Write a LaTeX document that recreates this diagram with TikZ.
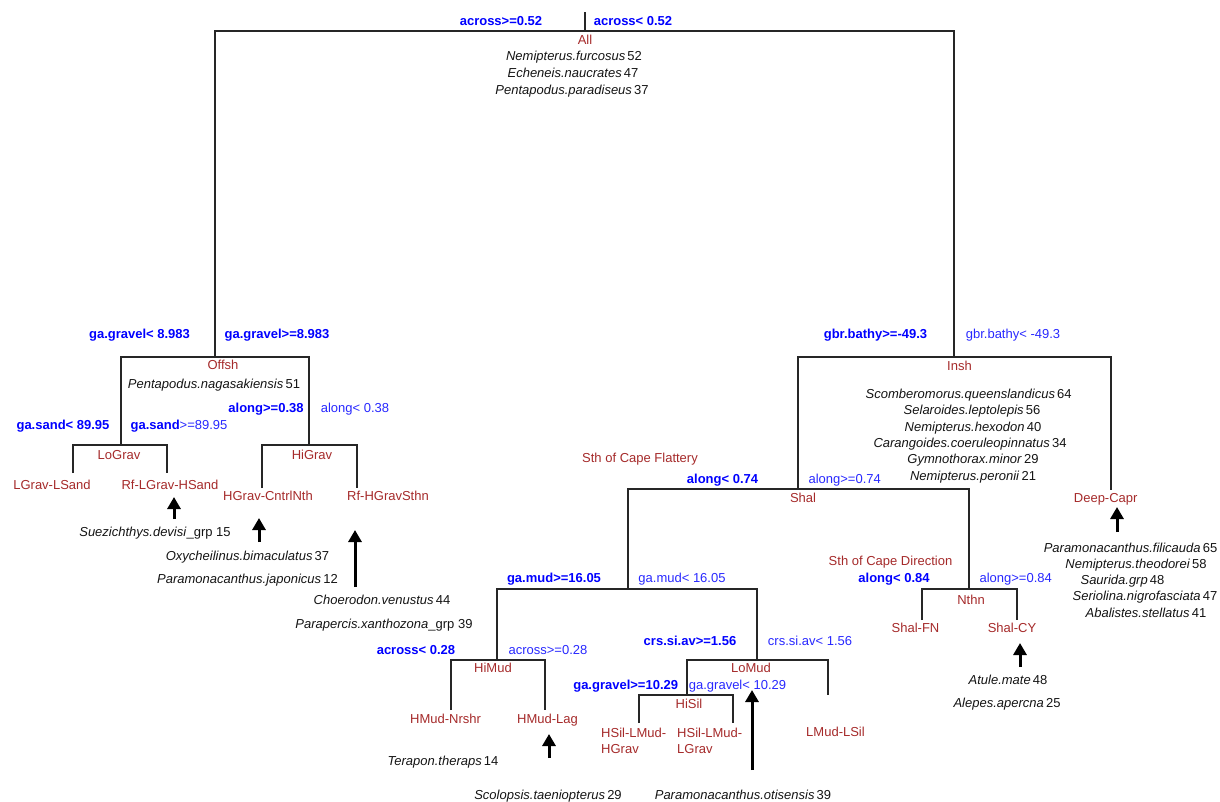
\documentclass[tikz,border=0pt]{standalone}
\usepackage{fontspec}
\setmainfont{Liberation Sans}
\usetikzlibrary{arrows.meta}
\definecolor{grpred}{RGB}{165,42,42}
\definecolor{splitblue}{RGB}{0,0,255}
\definecolor{splitlight}{RGB}{40,40,255}
\definecolor{sptext}{RGB}{20,20,20}
\newcommand{\basefnt}{\fontsize{13}{16}\selectfont}
\tikzset{
  lbl/.style={inner sep=0pt, text height=9pt, text depth=0pt},
  sb/.style={lbl, text=splitblue, font=\basefnt\bfseries},
  sr/.style={lbl, text=splitlight},
  grp/.style={lbl, text=grpred},
  sp/.style={lbl, text=sptext},
  tree/.style={line width=1.3pt, black!85},
  arr/.style={line width=3pt, -{Triangle[width=13pt,length=12pt]}},
}
\newcommand{\spn}[2]{\textit{#1}\,#2}
\begin{document}
\begin{tikzpicture}[x=1pt,y=-1pt,font=\basefnt]
\useasboundingbox (0,0) rectangle (1220,801);

% ---------- junction coordinates ----------
\coordinate (rootTop) at (585,12);
\coordinate (rootJ) at (585,31);
\coordinate (offJ) at (215,357);
\coordinate (insJ) at (954,357);
\coordinate (loJ) at (121,445);
\coordinate (hiJ) at (309,445);
\coordinate (lglsE) at (73,473);
\coordinate (rflhE) at (167,473);
\coordinate (hgcnE) at (262,488);
\coordinate (rfhsE) at (357,488);
\coordinate (shalJ) at (798,489);
\coordinate (deepE) at (1111,490);
\coordinate (mudJ) at (628,589);
\coordinate (nthnJ) at (969,589);
\coordinate (shfnE) at (922,620);
\coordinate (shcyE) at (1017,620);
\coordinate (himudJ) at (497,660);
\coordinate (lomudJ) at (757,660);
\coordinate (hmnE) at (451,710);
\coordinate (hmlE) at (545,710);
\coordinate (hisilJ) at (687,695);
\coordinate (lmlsE) at (828,695);
\coordinate (hshgE) at (639,723);
\coordinate (hslgE) at (733,723);

% ---------- tree lines ----------
\draw[tree] (rootTop) -- (rootJ);
\draw[tree] (offJ) |- (rootJ) -| (insJ);
\draw[tree] (loJ) |- (offJ) -| (hiJ);
\draw[tree] (lglsE) |- (loJ) -| (rflhE);
\draw[tree] (hgcnE) |- (hiJ) -| (rfhsE);
\draw[tree] (shalJ) |- (insJ) -| (deepE);
\draw[tree] (mudJ) |- (shalJ) -| (nthnJ);
\draw[tree] (shfnE) |- (nthnJ) -| (shcyE);
\draw[tree] (himudJ) |- (mudJ) -| (lomudJ);
\draw[tree] (hmnE) |- (himudJ) -| (hmlE);
\draw[tree] (hisilJ) |- (lomudJ) -| (lmlsE);
\draw[tree] (hshgE) |- (hisilJ) -| (hslgE);

% ---------- root ----------
\node[sb] (s1l) at (501,21) {across>=0.52};
\node[sb] (s1r) at (633,21) {across< 0.52};
\node[grp] (all) at (585,40) {All};
\node[sp] (a1) at (574,56) {\spn{Nemipterus.furcosus}{52}};
\node[sp] (a2) at (573,73) {\spn{Echeneis.naucrates}{47}};
\node[sp] (a3) at (572,90) {\spn{Pentapodus.paradiseus}{37}};

% ---------- Offsh ----------
\node[sb] (s2l) at (139.5,334) {ga.gravel< 8.983};
\node[sb] (s2r) at (277,334) {ga.gravel>=8.983};
\node[grp] (offsh) at (223,365) {Offsh};
\node[sp] (o1) at (214,384) {\spn{Pentapodus.nagasakiensis}{51}};
\node[sb] (s3l) at (266,408) {along>=0.38};
\node[sr] (s3r) at (355,408) {along< 0.38};
\node[sb] (s4l) at (63,425) {ga.sand< 89.95};
\node[lbl] (s4r) at (179,425) {\textcolor{splitblue}{\bfseries ga.sand}\textcolor{splitlight}{>=89.95}};
\node[grp] (lograv) at (119,455) {LoGrav};
\node[grp] (higrav) at (312,455) {HiGrav};
\node[grp] (lgls) at (52,485) {LGrav-LSand};
\node[grp] (rflh) at (170,485) {Rf-LGrav-HSand};
\node[grp] (hgcn) at (268,496) {HGrav-CntrlNth};
\node[grp] (rfhs) at (388,496) {Rf-HGravSthn};

\coordinate (ar1b) at (174,519);
\coordinate (ar1t) at (174,497);
\draw[arr] (ar1b) -- (ar1t);
\node[sp] (sue) at (155,532) {\textit{Suezichthys.devisi}\_grp 15};
\coordinate (ar2b) at (259,542);
\coordinate (ar2t) at (259,518);
\draw[arr] (ar2b) -- (ar2t);
\node[sp] (oxy) at (247.5,556) {\spn{Oxycheilinus.bimaculatus}{37}};
\node[sp] (pja) at (247.5,579) {\spn{Paramonacanthus.japonicus}{12}};
\coordinate (ar3b) at (355,587);
\coordinate (ar3t) at (355,530);
\draw[arr] (ar3b) -- (ar3t);
\node[sp] (cho) at (382,600) {\spn{Choerodon.venustus}{44}};
\node[sp] (par) at (384,624) {\textit{Parapercis.xanthozona}\_grp 39};

% ---------- Insh ----------
\node[sb] (s5l) at (875.5,334) {gbr.bathy>=-49.3};
\node[sr] (s5r) at (1013,334) {gbr.bathy< -49.3};
\node[grp] (insh) at (959.5,366) {Insh};
\node[sp] (i1) at (968.7,394) {\spn{Scomberomorus.queenslandicus}{64}};
\node[sp] (i2) at (972,410) {\spn{Selaroides.leptolepis}{56}};
\node[sp] (i3) at (973,427) {\spn{Nemipterus.hexodon}{40}};
\node[sp] (i4) at (970,443) {\spn{Carangoides.coeruleopinnatus}{34}};
\node[sp] (i5) at (973,459) {\spn{Gymnothorax.minor}{29}};
\node[sp] (i6) at (973,476) {\spn{Nemipterus.peronii}{21}};
\node[grp] (deep) at (1105.7,498) {Deep-Capr};
\coordinate (ar4b) at (1117,532);
\coordinate (ar4t) at (1117,507);
\draw[arr] (ar4b) -- (ar4t);
\node[sp] (d1) at (1130.5,548) {\spn{Paramonacanthus.filicauda}{65}};
\node[sp] (d2) at (1136,564) {\spn{Nemipterus.theodorei}{58}};
\node[sp] (d3) at (1122.5,580) {\spn{Saurida.grp}{48}};
\node[sp] (d4) at (1145,596) {\spn{Seriolina.nigrofasciata}{47}};
\node[sp] (d5) at (1146,613) {\spn{Abalistes.stellatus}{41}};

% ---------- Shal ----------
\node[grp] (scf) at (640,458) {Sth of Cape Flattery};
\node[sb] (s6l) at (722.5,479) {along< 0.74};
\node[sr] (s6r) at (844.7,479) {along>=0.74};
\node[grp] (shal) at (803,498) {Shal};
\node[grp] (scd) at (890.5,561) {Sth of Cape Direction};
\node[sb] (s7l) at (894,578) {along< 0.84};
\node[sr] (s7r) at (1015.7,578) {along>=0.84};
\node[grp] (nthn) at (971,600) {Nthn};
\node[grp] (shfn) at (915.5,628) {Shal-FN};
\node[grp] (shcy) at (1012,628) {Shal-CY};
\coordinate (ar5b) at (1020,667);
\coordinate (ar5t) at (1020,643);
\draw[arr] (ar5b) -- (ar5t);
\node[sp] (atu) at (1008,680) {\spn{Atule.mate}{48}};
\node[sp] (ale) at (1007,703) {\spn{Alepes.apercna}{25}};

% ---------- Mud ----------
\node[sb] (s8l) at (554,578) {ga.mud>=16.05};
\node[sr] (s8r) at (682,578) {ga.mud< 16.05};
\node[sb] (s9l) at (416,650) {across< 0.28};
\node[sr] (s9r) at (548,650) {across>=0.28};
\node[grp] (himud) at (493,668) {HiMud};
\node[grp] (hmn) at (445.5,719) {HMud-Nrshr};
\node[grp] (hml) at (547.5,719) {HMud-Lag};
\coordinate (ar6b) at (549,758);
\coordinate (ar6t) at (549,734);
\draw[arr] (ar6b) -- (ar6t);
\node[sp] (ter) at (443,761) {\spn{Terapon.theraps}{14}};
\node[sp] (sco) at (548,795) {\spn{Scolopsis.taeniopterus}{29}};

\node[sb] (s10l) at (690,641) {crs.si.av>=1.56};
\node[sr] (s10r) at (810,641) {crs.si.av< 1.56};
\node[grp] (lomud) at (751,668) {LoMud};
\node[sb] (s11l) at (625.7,685) {ga.gravel>=10.29};
\node[sr] (s11r) at (737.5,685) {ga.gravel< 10.29};
\node[grp] (hisil) at (689,704) {HiSil};
\node[grp, align=left, anchor=base west, text height=, text depth=] (hshg) at (601,753) {HSil-LMud-\\HGrav};
\node[grp, align=left, anchor=base west, text height=, text depth=] (hslg) at (677,753) {HSil-LMud-\\LGrav};
\node[grp] (lmls) at (835.5,732) {LMud-LSil};
\coordinate (ar7b) at (752,770);
\coordinate (ar7t) at (752,690);
\draw[arr] (ar7b) -- (ar7t);
\node[sp] (oti) at (743,795) {\spn{Paramonacanthus.otisensis}{39}};
\end{tikzpicture}
\end{document}
